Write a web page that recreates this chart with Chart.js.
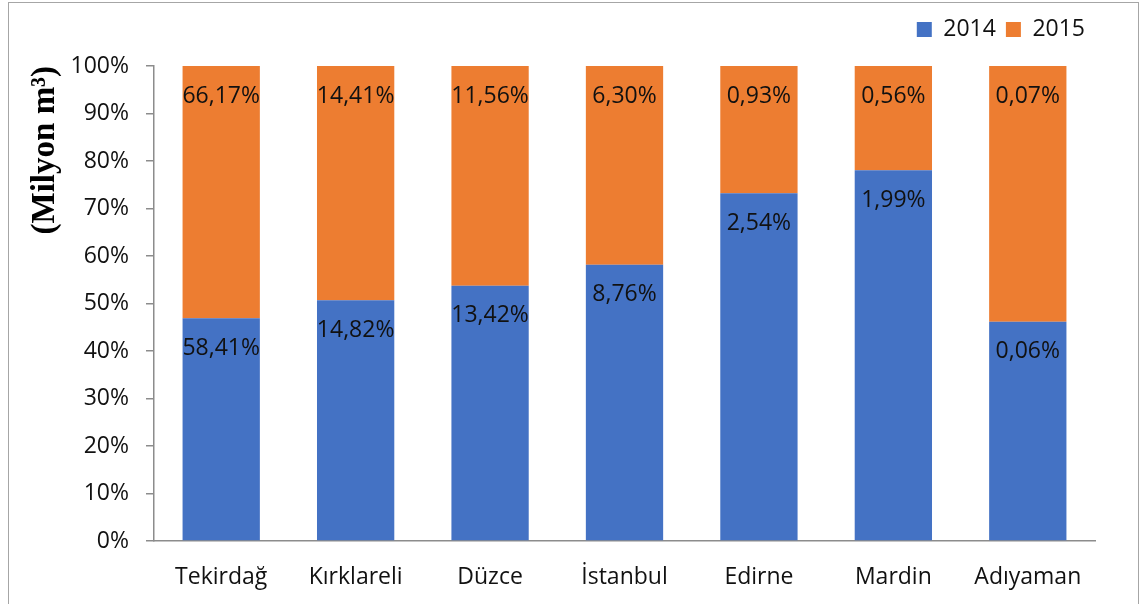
<!DOCTYPE html>
<html>
<head>
<meta charset="utf-8">
<script src="https://cdn.jsdelivr.net/npm/chart.js@4/dist/chart.umd.min.js"></script>
<style>
  html, body { margin: 0; padding: 0; background: #fff; }
  #wrap { position: relative; width: 1142px; height: 604px; overflow: hidden; }
  #frame { position: absolute; left: 8px; top: 2px; width: 1131px; height: 640px; border: 1px solid #a6a6a6; box-sizing: border-box; }
  canvas { position: absolute; left: 0; top: 0; }
</style>
</head>
<body>
<div id="wrap">
  <div id="frame"></div>
  <canvas id="c" width="1142" height="604"></canvas>
</div>
<script>
const categories = ['Tekirdağ', 'Kırklareli', 'Düzce', 'İstanbul', 'Edirne', 'Mardin', 'Adıyaman'];
const seriesNames = ['2014', '2015'];
const values2014 = [58.41, 14.82, 13.42, 8.76, 2.54, 1.99, 0.06];
const values2015 = [66.17, 14.41, 11.56, 6.30, 0.93, 0.56, 0.07];
const yTickValues = [0, 10, 20, 30, 40, 50, 60, 70, 80, 90, 100];
const yTitle = '(Milyon m³)';

const totals = categories.map((_, i) => values2014[i] + values2015[i]);
const share2014 = values2014.map((v, i) => v / totals[i] * 100);
const share2015 = values2015.map((v, i) => v / totals[i] * 100);
const rawValues = [values2014, values2015];

const fmt = v => v.toFixed(2).replace('.', ',') + '%';
const FONT = "'Open Sans', sans-serif";
const FS = 23;

const labelPlugin = {
  id: 'segLabels',
  afterDatasetsDraw(chart) {
    const ctx = chart.ctx;
    ctx.save();
    ctx.font = FS + 'px ' + FONT;
    ctx.fillStyle = '#111';
    ctx.textAlign = 'center';
    ctx.textBaseline = 'middle';
    chart.data.datasets.forEach((ds, di) => {
      const meta = chart.getDatasetMeta(di);
      meta.data.forEach((bar, i) => {
        ctx.fillText(fmt(rawValues[di][i]), bar.x, bar.y + 30);
      });
    });
    ctx.restore();
  }
};

// adds extra space under the legend without moving the legend itself
const legendSpacer = {
  id: 'legendSpacer',
  beforeLayout(chart) {
    const lg = chart.legend;
    if (lg && !lg._spaced) {
      const orig = lg.fit;
      lg.fit = function () { orig.call(this); this.height += 15; };
      lg._spaced = true;
    }
  }
};

new Chart(document.getElementById('c'), {
  type: 'bar',
  data: {
    labels: categories,
    datasets: [
      { label: seriesNames[0], data: share2014, backgroundColor: '#4472C4' },
      { label: seriesNames[1], data: share2015, backgroundColor: '#ED7D31' }
    ]
  },
  options: {
    responsive: false,
    animation: false,
    devicePixelRatio: 1,
    layout: { padding: { top: 8, right: 47, bottom: 0, left: 0 } },
    datasets: { bar: { barPercentage: 0.575, categoryPercentage: 1.0 } },
    plugins: {
      legend: {
        position: 'top',
        align: 'end',
        labels: {
          boxWidth: 15, boxHeight: 15, padding: 10,
          color: '#111',
          font: { family: FONT, size: FS }
        }
      },
      tooltip: { enabled: false }
    },
    scales: {
      x: {
        stacked: true,
        grid: { display: false },
        border: { display: true, color: '#8c8c8c', width: 1.5 },
        ticks: { color: '#111', font: { family: FONT, size: FS }, padding: 15, maxRotation: 0 },
        afterFit(scale) { scale.height = 63; }
      },
      y: {
        stacked: true,
        min: 0, max: 100,
        afterBuildTicks(scale) { scale.ticks = yTickValues.map(v => ({ value: v })); },
        grid: { drawOnChartArea: false, drawTicks: true, tickLength: 8, color: '#8c8c8c', lineWidth: 1.5 },
        border: { display: true, color: '#8c8c8c', width: 1.5 },
        ticks: {
          color: '#111', font: { family: FONT, size: FS }, padding: 17,
          callback: v => v + '%'
        },
        title: {
          display: true, text: yTitle, align: 'end', color: '#000',
          font: { family: "'Liberation Serif', 'Times New Roman', serif", size: 33, weight: 'bold' },
          padding: { top: 26, bottom: 0 }
        },
        afterFit(scale) { scale.width = 154; }
      }
    }
  },
  plugins: [labelPlugin, legendSpacer]
});
</script>
</body>
</html>
